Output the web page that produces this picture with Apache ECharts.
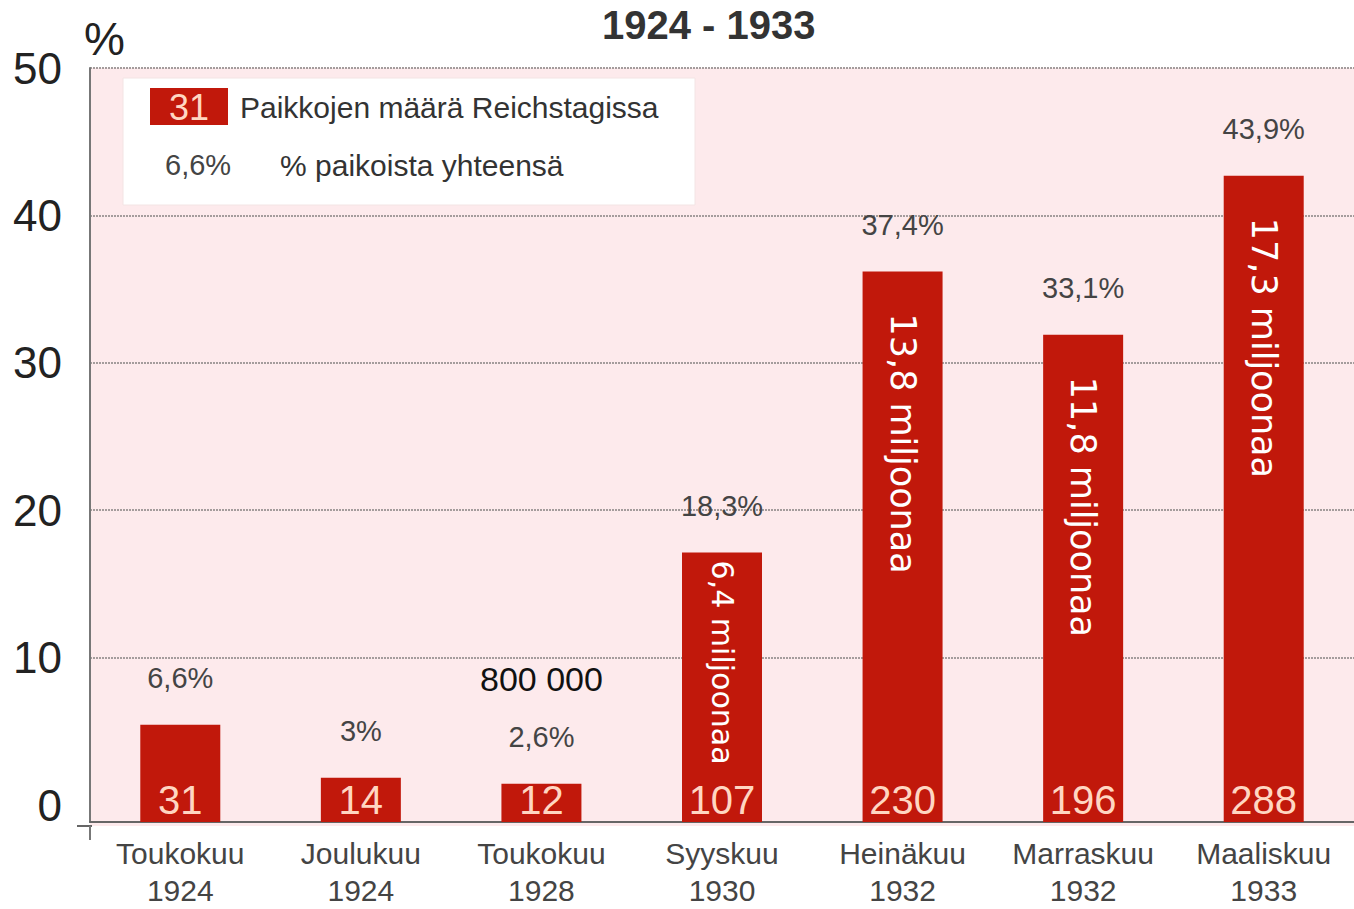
<!DOCTYPE html>
<html>
<head>
<meta charset="utf-8">
<title>Reichstag 1924 - 1933</title>
<script src="https://cdn.jsdelivr.net/npm/echarts@6/dist/echarts.min.js"></script>
<style>
  html, body { margin: 0; padding: 0; background: #ffffff; }
  #chart { width: 1354px; height: 909px; }
</style>
</head>
<body>
<div id="chart"></div>
<script>
// Election dates (month / year)
const months = ['Toukokuu', 'Joulukuu', 'Toukokuu', 'Syyskuu', 'Heinäkuu', 'Marraskuu', 'Maaliskuu'];
const years = ['1924', '1924', '1928', '1930', '1932', '1932', '1933'];
// Share in percent (bar height)
const shares = [6.6, 3, 2.6, 18.3, 37.4, 33.1, 43.9];
// Seats in the Reichstag
const seats = [31, 14, 12, 107, 230, 196, 288];
// Number of votes
const votes = ['', '', '800 000', '6,4 miljoonaa', '13,8 miljoonaa', '11,8 miljoonaa', '17,3 miljoonaa'];
// Value axis
const yMin = 0, yMax = 50, yStep = 10;

const categories = months.map((m, i) => m + '\n' + years[i]);
const fmtPct = v => String(v).replace('.', ',') + '%';

const RED = '#c1180b';
const PEACH = '#ffd6c2';
const FONT = '"Liberation Sans", Arial, sans-serif';
const TRANSPARENT = 'rgba(0,0,0,0)';

// Vote labels: written down the bar when it is tall enough, otherwise above it
const voteData = shares.map((v, i) => {
  if (v >= 10) {
    return {
      value: v,
      label: {
        position: 'insideTop',
        distance: v >= 25 ? 42 : 8,
        rotate: -90,
        align: 'left',
        verticalAlign: 'middle',
        color: '#ffffff',
        fontFamily: '"DejaVu Sans", sans-serif',
        fontSize: v >= 25 ? 35 : 30
      }
    };
  }
  return {
    value: v,
    label: {
      position: 'top',
      distance: 88,
      color: '#111111',
      fontFamily: FONT,
      fontSize: 34
    }
  };
});

const chart = echarts.init(document.getElementById('chart'), null, { renderer: 'svg' });

chart.setOption({
  animation: false,
  backgroundColor: '#ffffff',
  title: {
    text: '1924 - 1933',
    left: 597,
    top: 0,
    textStyle: { fontFamily: FONT, fontSize: 40, fontWeight: 'bold', color: '#333333' }
  },
  graphic: {
    elements: [
      // plot background
      { type: 'rect', z: -10, silent: true,
        shape: { x: 90, y: 68, width: 1264, height: 758 },
        style: { fill: '#fdeaec' } },
      // axis overhangs at the origin corner
      { type: 'line', z: 5, silent: true,
        shape: { x1: 77, y1: 826, x2: 92, y2: 826 },
        style: { stroke: '#666666', lineWidth: 2 } },
      { type: 'line', z: 5, silent: true,
        shape: { x1: 90, y1: 826, x2: 90, y2: 840 },
        style: { stroke: '#777777', lineWidth: 2 } },
      // key box
      { type: 'group', z: 50, silent: true, children: [
        { type: 'rect', shape: { x: 123, y: 78, width: 572, height: 127 },
          style: { fill: '#ffffff', stroke: '#f3e4e4', lineWidth: 1 } },
        { type: 'rect', shape: { x: 150, y: 88, width: 78, height: 37 },
          style: { fill: RED } },
        { type: 'text', x: 189, y: 107,
          style: { text: String(seats[0]), fill: PEACH, font: '36px "Liberation Sans", Arial, sans-serif',
                   textAlign: 'center', textVerticalAlign: 'middle' } },
        { type: 'text', x: 240, y: 107,
          style: { text: 'Paikkojen määrä Reichstagissa', fill: '#333333',
                   font: '30px "Liberation Sans", Arial, sans-serif', textVerticalAlign: 'middle' } },
        { type: 'text', x: 165, y: 165,
          style: { text: fmtPct(shares[0]), fill: '#444444',
                   font: '29px "Liberation Sans", Arial, sans-serif', textVerticalAlign: 'middle' } },
        { type: 'text', x: 280, y: 165,
          style: { text: '% paikoista yhteensä', fill: '#333333',
                   font: '30px "Liberation Sans", Arial, sans-serif', textVerticalAlign: 'middle' } }
      ]}
    ]
  },
  grid: [
    // bars
    { left: 90, width: 1272, top: 86, height: 740 },
    // scale with gridlines
    { left: 90, width: 1272, top: 68, height: 737 }
  ],
  xAxis: [
    {
      gridIndex: 0,
      type: 'category',
      data: categories,
      axisLine: { lineStyle: { color: '#666666', width: 2 } },
      axisTick: { show: false },
      axisLabel: {
        interval: 0,
        margin: 13,
        fontFamily: FONT,
        fontSize: 30,
        lineHeight: 37,
        color: '#444444'
      }
    },
    { gridIndex: 1, type: 'value', min: 0, max: 1, show: false }
  ],
  yAxis: [
    {
      gridIndex: 0,
      type: 'value',
      min: yMin,
      max: yMax,
      interval: yStep,
      axisLine: { show: true, lineStyle: { color: '#777777', width: 2 } },
      axisTick: { show: false },
      axisLabel: { show: false },
      splitLine: { show: false }
    },
    {
      gridIndex: 1,
      type: 'value',
      min: yMin,
      max: yMax,
      interval: yStep,
      name: '%',
      nameLocation: 'end',
      nameGap: 6,
      nameTextStyle: { fontFamily: FONT, fontSize: 46, color: '#222222', align: 'left', padding: [0, 0, 0, -6] },
      axisLine: { show: true, lineStyle: { color: '#777777', width: 2 } },
      axisTick: { show: false },
      axisLabel: { margin: 28, fontFamily: FONT, fontSize: 44, color: '#222222' },
      splitLine: {
        show: true,
        lineStyle: {
          type: [2, 1],
          width: 2,
          color: [TRANSPARENT, '#a49c9c', '#a49c9c', '#a49c9c', '#a49c9c', '#a49c9c']
        }
      }
    }
  ],
  series: [
    {
      name: 'Paikat',
      type: 'bar',
      xAxisIndex: 0,
      yAxisIndex: 0,
      barWidth: 80,
      barGap: '-100%',
      data: shares,
      itemStyle: { color: RED },
      emphasis: { disabled: true },
      label: {
        show: true,
        position: 'insideBottom',
        distance: 2,
        formatter: p => String(seats[p.dataIndex]),
        fontFamily: FONT,
        fontSize: 40,
        color: PEACH
      }
    },
    {
      name: 'Äänet',
      type: 'bar',
      xAxisIndex: 0,
      yAxisIndex: 0,
      barWidth: 80,
      barGap: '-100%',
      data: voteData,
      itemStyle: { color: TRANSPARENT },
      emphasis: { disabled: true },
      label: {
        show: true,
        formatter: p => votes[p.dataIndex]
      }
    },
    {
      name: 'Osuus',
      type: 'bar',
      xAxisIndex: 0,
      yAxisIndex: 0,
      barWidth: 80,
      barGap: '-100%',
      data: shares,
      itemStyle: { color: TRANSPARENT },
      emphasis: { disabled: true },
      label: {
        show: true,
        position: 'top',
        distance: 32,
        formatter: p => fmtPct(shares[p.dataIndex]),
        fontFamily: FONT,
        fontSize: 29,
        color: '#444444'
      }
    }
  ]
});
</script>
</body>
</html>
